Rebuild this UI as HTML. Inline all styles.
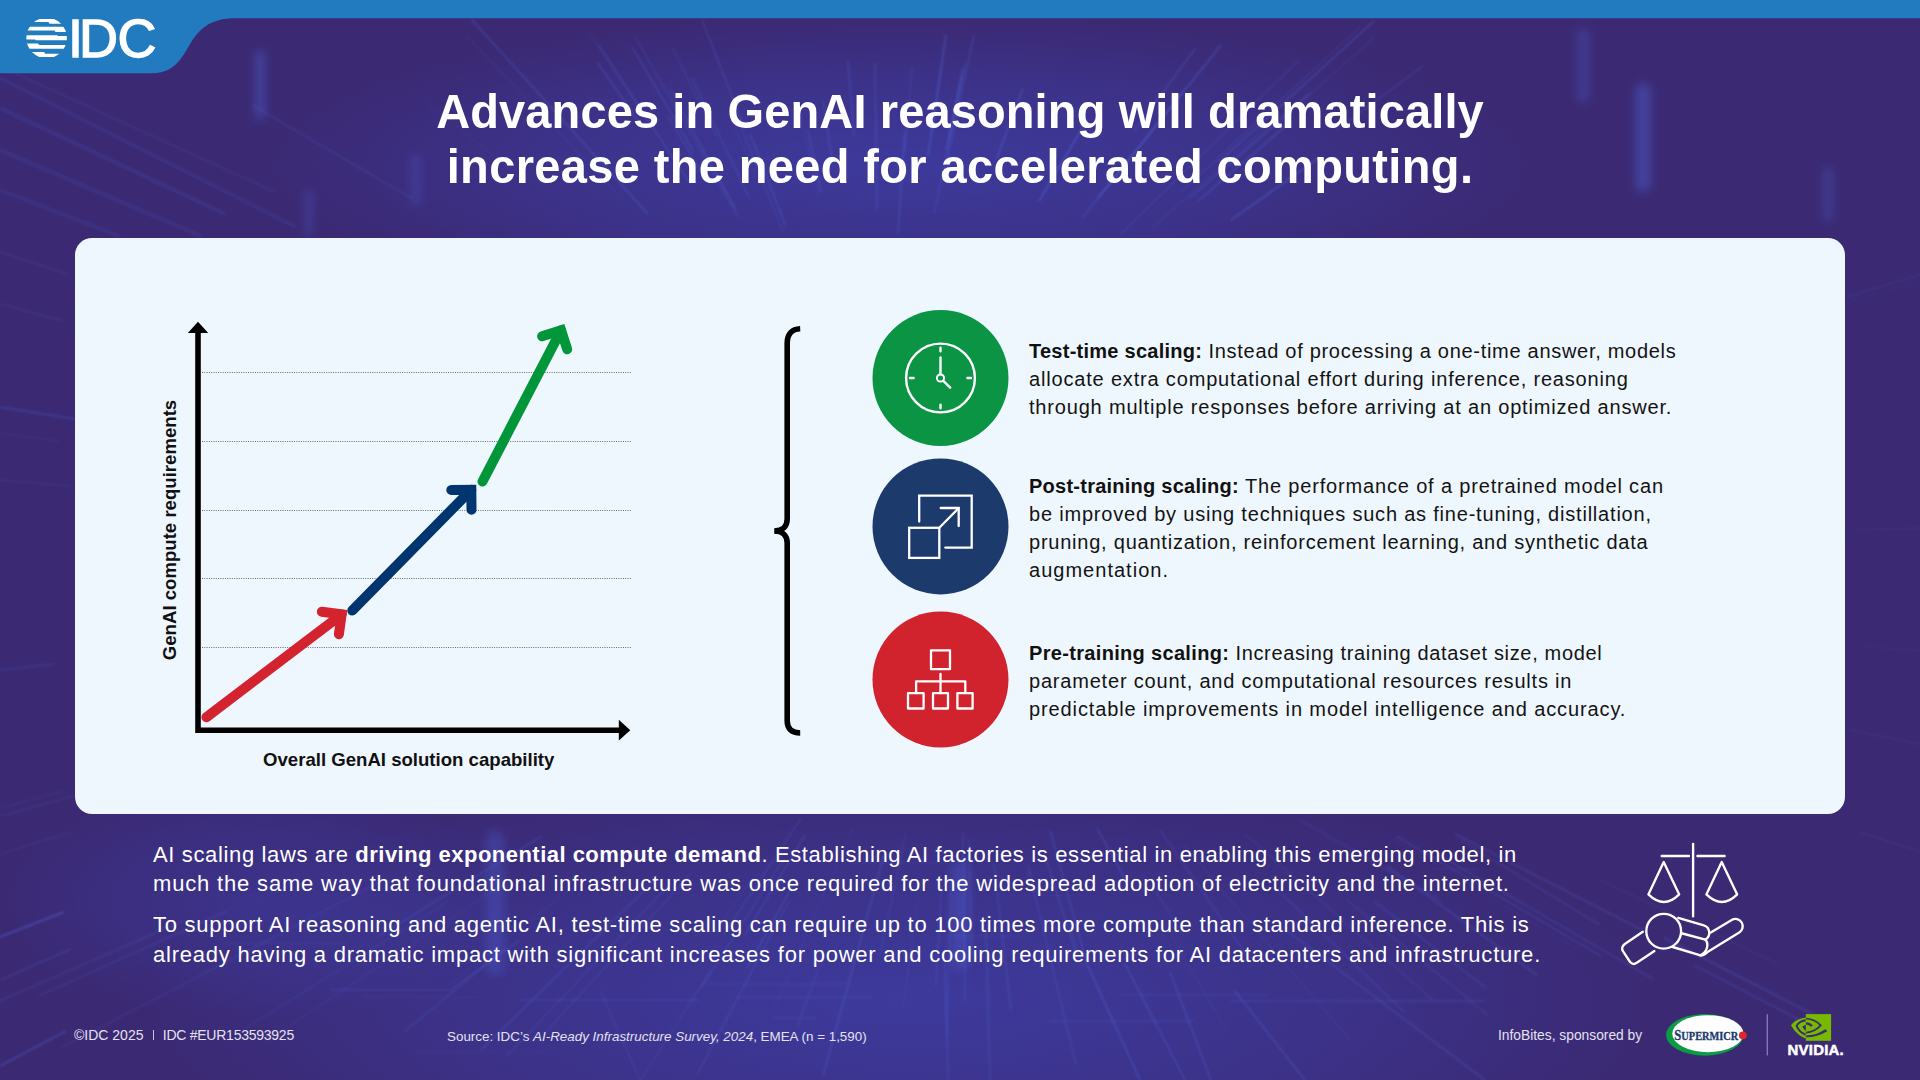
<!DOCTYPE html>
<html lang="en">
<head>
<meta charset="utf-8">
<title>Advances in GenAI reasoning</title>
<style>
html,body{margin:0;padding:0;}
body{width:1920px;height:1080px;overflow:hidden;position:relative;background:#3b2973;font-family:"Liberation Sans",Arial,sans-serif;}
.abs{position:absolute;}
#bg{position:absolute;left:0;top:0;width:1920px;height:1080px;}
#gfx{position:absolute;left:0;top:0;width:1920px;height:1080px;}
.title{position:absolute;left:0;width:1920px;top:85.2px;text-align:center;color:#fff;font-weight:bold;font-size:47px;line-height:54.7px;white-space:nowrap;}
.card{position:absolute;left:75px;top:238px;width:1770px;height:576px;border-radius:17px;background:#eff7fe;}
.desc{position:absolute;left:1029px;color:#131313;font-size:20px;line-height:28px;white-space:nowrap;}
.desc b{color:#111;}
.para{position:absolute;left:153px;color:#fff;font-size:22px;line-height:29.4px;white-space:nowrap;}
.l{display:block;}
.title .l{transform:scaleY(1.02);transform-origin:50% 79.8%;}
#t1{letter-spacing:0.123px}
#t2{letter-spacing:0.360px}
#e{letter-spacing:0.708px}
#f{letter-spacing:0.824px}
#g{letter-spacing:0.818px}
#h{letter-spacing:0.835px}
#i{letter-spacing:0.795px}
#j{letter-spacing:0.772px}
#aug{letter-spacing:1.017px}
#k{letter-spacing:0.657px}
#l{letter-spacing:0.802px}
#m{letter-spacing:0.881px}
#pa{letter-spacing:0.641px}
#pb{letter-spacing:0.829px}
#pc{letter-spacing:0.737px}
#pd{letter-spacing:0.773px}
#eb{letter-spacing:0.259px}
#hb{letter-spacing:0.248px}
#kb{letter-spacing:0.325px}
#pab{letter-spacing:0.473px}


.foot{position:absolute;color:#e4e2f0;font-size:14px;line-height:16px;white-space:nowrap;}
</style>
</head>
<body>
<svg id="bg" width="1920" height="1080" viewBox="0 0 1920 1080">
  <defs>
    <radialGradient id="g1" cx="0.5" cy="0.5" r="0.5">
      <stop offset="0" stop-color="#3f4ac4" stop-opacity="0.6"/>
      <stop offset="0.6" stop-color="#3f4ac4" stop-opacity="0.3"/>
      <stop offset="1" stop-color="#3f4ac4" stop-opacity="0"/>
    </radialGradient>
    <filter id="blur1" x="-5%" y="-5%" width="110%" height="110%"><feGaussianBlur stdDeviation="0.8"/></filter>
    <filter id="blur3" x="-5%" y="-20%" width="110%" height="140%"><feGaussianBlur stdDeviation="1.6"/></filter>
    <filter id="blur2" x="-50%" y="-50%" width="200%" height="200%"><feGaussianBlur stdDeviation="5"/></filter>
  </defs>
  <rect width="1920" height="1080" fill="#3b2973"/>
  <ellipse cx="900" cy="165" rx="640" ry="150" fill="url(#g1)" opacity="0.85"/>
  <ellipse cx="900" cy="1000" rx="760" ry="230" fill="url(#g1)" opacity="0.85"/>
  <ellipse cx="260" cy="900" rx="260" ry="120" fill="url(#g1)" opacity="0.5"/>
  <g filter="url(#blur2)">
    <rect x="255" y="50" width="10" height="70" rx="5" fill="#4f66dd" fill-opacity="0.4"/>
    <rect x="305" y="190" width="8" height="47" rx="4" fill="#4f66dd" fill-opacity="0.3"/>
    <rect x="412" y="155" width="8" height="50" rx="4" fill="#4f66dd" fill-opacity="0.3"/>
    <rect x="1577" y="28" width="12" height="75" rx="6" fill="#4f66dd" fill-opacity="0.3"/>
    <rect x="1635" y="83" width="16" height="109" rx="8" fill="#4f66dd" fill-opacity="0.4"/>
    <rect x="1822" y="167" width="12" height="55" rx="6" fill="#4f66dd" fill-opacity="0.25"/>
    <rect x="486" y="830" width="18" height="145" rx="9" fill="#4f66dd" fill-opacity="0.3"/>
    <rect x="951" y="860" width="18" height="110" rx="9" fill="#4f66dd" fill-opacity="0.3"/>
  </g>
  <g stroke="#4a64e0" filter="url(#blur3)">
    <line x1="0" y1="108" x2="225" y2="214" stroke-opacity="0.23" stroke-width="2.5"/>
    <line x1="0" y1="150" x2="201" y2="236" stroke-opacity="0.21" stroke-width="2.5"/>
    <line x1="0" y1="190" x2="119" y2="236" stroke-opacity="0.23" stroke-width="2"/>
    <line x1="0" y1="78" x2="296" y2="227" stroke-opacity="0.24" stroke-width="2"/>
  </g>
  <g stroke="#5b78f2" filter="url(#blur1)">
    <line x1="928" y1="156" x2="946" y2="35" stroke-opacity="0.37" stroke-width="1.5"/>
    <line x1="943" y1="180" x2="974" y2="35" stroke-opacity="0.32" stroke-width="1"/>
    <line x1="949" y1="139" x2="962" y2="76" stroke-opacity="0.24" stroke-width="1"/>
    <line x1="786" y1="227" x2="750" y2="133" stroke-opacity="0.31" stroke-width="1.2"/>
    <line x1="659" y1="137" x2="589" y2="33" stroke-opacity="0.16" stroke-width="1"/>
    <line x1="511" y1="170" x2="428" y2="103" stroke-opacity="0.12" stroke-width="1"/>
    <line x1="648" y1="214" x2="472" y2="20" stroke-opacity="0.35" stroke-width="1.2"/>
    <line x1="737" y1="216" x2="635" y2="36" stroke-opacity="0.28" stroke-width="1"/>
    <line x1="1219" y1="162" x2="1374" y2="21" stroke-opacity="0.35" stroke-width="1.2"/>
    <line x1="275" y1="192" x2="-88" y2="26" stroke-opacity="0.19" stroke-width="1.2"/>
    <line x1="701" y1="172" x2="668" y2="116" stroke-opacity="0.30" stroke-width="1.2"/>
    <line x1="413" y1="199" x2="252" y2="105" stroke-opacity="0.30" stroke-width="1"/>
    <line x1="832" y1="160" x2="823" y2="100" stroke-opacity="0.37" stroke-width="1"/>
    <line x1="1189" y1="199" x2="1310" y2="93" stroke-opacity="0.26" stroke-width="1.2"/>
    <line x1="755" y1="174" x2="731" y2="118" stroke-opacity="0.13" stroke-width="1"/>
    <line x1="932" y1="133" x2="941" y2="71" stroke-opacity="0.18" stroke-width="1.2"/>
    <line x1="750" y1="199" x2="692" y2="78" stroke-opacity="0.32" stroke-width="1"/>
    <line x1="905" y1="152" x2="912" y2="68" stroke-opacity="0.20" stroke-width="1.2"/>
    <line x1="1152" y1="228" x2="1273" y2="120" stroke-opacity="0.28" stroke-width="1"/>
    <line x1="716" y1="136" x2="672" y2="47" stroke-opacity="0.20" stroke-width="1.2"/>
    <line x1="693" y1="150" x2="632" y2="47" stroke-opacity="0.31" stroke-width="1.2"/>
    <line x1="1231" y1="220" x2="1319" y2="158" stroke-opacity="0.38" stroke-width="1.5"/>
    <line x1="1121" y1="234" x2="1299" y2="60" stroke-opacity="0.21" stroke-width="1.2"/>
    <line x1="821" y1="192" x2="808" y2="130" stroke-opacity="0.36" stroke-width="1"/>
    <line x1="1039" y1="201" x2="1087" y2="120" stroke-opacity="0.38" stroke-width="1.5"/>
    <line x1="1225" y1="169" x2="1374" y2="38" stroke-opacity="0.15" stroke-width="1.2"/>
    <line x1="783" y1="232" x2="734" y2="110" stroke-opacity="0.16" stroke-width="1.5"/>
    <line x1="1134" y1="131" x2="1195" y2="49" stroke-opacity="0.25" stroke-width="1.5"/>
    <line x1="735" y1="208" x2="670" y2="89" stroke-opacity="0.35" stroke-width="1"/>
    <line x1="745" y1="129" x2="702" y2="20" stroke-opacity="0.28" stroke-width="1.2"/>
    <line x1="1082" y1="218" x2="1183" y2="92" stroke-opacity="0.25" stroke-width="1.5"/>
    <line x1="1098" y1="198" x2="1221" y2="45" stroke-opacity="0.32" stroke-width="1.5"/>
    <line x1="898" y1="234" x2="905" y2="130" stroke-opacity="0.27" stroke-width="1.5"/>
    <line x1="691" y1="185" x2="598" y2="44" stroke-opacity="0.30" stroke-width="1.2"/>
    <line x1="1198" y1="201" x2="1289" y2="123" stroke-opacity="0.34" stroke-width="1.2"/>
    <line x1="877" y1="210" x2="875" y2="63" stroke-opacity="0.24" stroke-width="1.5"/>
    <line x1="946" y1="150" x2="963" y2="68" stroke-opacity="0.29" stroke-width="1.5"/>
    <line x1="1180" y1="193" x2="1360" y2="27" stroke-opacity="0.16" stroke-width="1.5"/>
    <line x1="819" y1="198" x2="797" y2="101" stroke-opacity="0.16" stroke-width="1"/>
    <line x1="621" y1="198" x2="467" y2="36" stroke-opacity="0.19" stroke-width="1"/>
    <line x1="997" y1="158" x2="1023" y2="88" stroke-opacity="0.32" stroke-width="1.5"/>
    <line x1="854" y1="135" x2="848" y2="61" stroke-opacity="0.26" stroke-width="1.5"/>
    <line x1="643" y1="128" x2="598" y2="63" stroke-opacity="0.27" stroke-width="1.5"/>
    <line x1="934" y1="214" x2="966" y2="62" stroke-opacity="0.28" stroke-width="1"/>
    <line x1="1336" y1="130" x2="1423" y2="66" stroke-opacity="0.35" stroke-width="1"/>
    <line x1="741" y1="218" x2="695" y2="135" stroke-opacity="0.13" stroke-width="1.2"/>
    <line x1="1068" y1="920" x2="1083" y2="968" stroke-opacity="0.14" stroke-width="1.5"/>
    <line x1="1598" y1="879" x2="1779" y2="964" stroke-opacity="0.18" stroke-width="1"/>
    <line x1="789" y1="901" x2="697" y2="1075" stroke-opacity="0.21" stroke-width="1.5"/>
    <line x1="1374" y1="901" x2="1486" y2="988" stroke-opacity="0.22" stroke-width="1.5"/>
    <line x1="654" y1="881" x2="481" y2="1050" stroke-opacity="0.23" stroke-width="1.5"/>
    <line x1="969" y1="839" x2="972" y2="956" stroke-opacity="0.20" stroke-width="1.2"/>
    <line x1="227" y1="911" x2="39" y2="996" stroke-opacity="0.28" stroke-width="1"/>
    <line x1="1028" y1="866" x2="1076" y2="1065" stroke-opacity="0.21" stroke-width="1.5"/>
    <line x1="823" y1="956" x2="797" y2="1028" stroke-opacity="0.19" stroke-width="1.2"/>
    <line x1="951" y1="891" x2="947" y2="1036" stroke-opacity="0.18" stroke-width="1.2"/>
    <line x1="884" y1="855" x2="823" y2="1076" stroke-opacity="0.20" stroke-width="2"/>
    <line x1="1694" y1="965" x2="1815" y2="1028" stroke-opacity="0.29" stroke-width="1.2"/>
    <line x1="963" y1="833" x2="965" y2="1002" stroke-opacity="0.19" stroke-width="1.5"/>
    <line x1="1396" y1="836" x2="1601" y2="956" stroke-opacity="0.20" stroke-width="1.5"/>
    <line x1="1155" y1="890" x2="1183" y2="935" stroke-opacity="0.20" stroke-width="1.2"/>
    <line x1="783" y1="860" x2="701" y2="988" stroke-opacity="0.30" stroke-width="1"/>
    <line x1="1455" y1="834" x2="1646" y2="932" stroke-opacity="0.24" stroke-width="1.5"/>
    <line x1="801" y1="818" x2="723" y2="936" stroke-opacity="0.24" stroke-width="1.2"/>
    <line x1="1437" y1="854" x2="1653" y2="979" stroke-opacity="0.28" stroke-width="1.2"/>
    <line x1="1664" y1="938" x2="1828" y2="1022" stroke-opacity="0.22" stroke-width="2"/>
    <line x1="506" y1="948" x2="404" y2="1032" stroke-opacity="0.24" stroke-width="1.2"/>
    <line x1="497" y1="888" x2="264" y2="1043" stroke-opacity="0.16" stroke-width="1"/>
    <line x1="794" y1="883" x2="747" y2="968" stroke-opacity="0.26" stroke-width="1.5"/>
    <line x1="1278" y1="890" x2="1404" y2="1012" stroke-opacity="0.20" stroke-width="1.5"/>
    <line x1="920" y1="882" x2="903" y2="1007" stroke-opacity="0.11" stroke-width="1.2"/>
    <line x1="1097" y1="828" x2="1126" y2="881" stroke-opacity="0.29" stroke-width="1.5"/>
    <line x1="711" y1="970" x2="641" y2="1080" stroke-opacity="0.24" stroke-width="1"/>
    <line x1="1245" y1="834" x2="1433" y2="1000" stroke-opacity="0.26" stroke-width="1"/>
    <line x1="805" y1="835" x2="745" y2="935" stroke-opacity="0.28" stroke-width="1.2"/>
    <line x1="1183" y1="844" x2="1351" y2="1041" stroke-opacity="0.11" stroke-width="1.2"/>
    <line x1="1380" y1="831" x2="1579" y2="950" stroke-opacity="0.11" stroke-width="1"/>
    <line x1="906" y1="833" x2="880" y2="955" stroke-opacity="0.22" stroke-width="1"/>
    <line x1="994" y1="864" x2="1011" y2="1010" stroke-opacity="0.20" stroke-width="1.5"/>
    <line x1="542" y1="836" x2="379" y2="936" stroke-opacity="0.21" stroke-width="1.5"/>
    <line x1="446" y1="903" x2="246" y2="1028" stroke-opacity="0.15" stroke-width="1.2"/>
    <line x1="1170" y1="934" x2="1226" y2="1029" stroke-opacity="0.13" stroke-width="1.2"/>
    <line x1="574" y1="886" x2="448" y2="986" stroke-opacity="0.13" stroke-width="1"/>
    <line x1="853" y1="828" x2="774" y2="1009" stroke-opacity="0.12" stroke-width="1"/>
    <line x1="942" y1="886" x2="936" y2="986" stroke-opacity="0.19" stroke-width="1.5"/>
    <line x1="1346" y1="899" x2="1488" y2="1015" stroke-opacity="0.18" stroke-width="1.2"/>
    <line x1="378" y1="883" x2="61" y2="1048" stroke-opacity="0.25" stroke-width="1"/>
    <line x1="185" y1="920" x2="-131" y2="1058" stroke-opacity="0.13" stroke-width="2"/>
    <line x1="1044" y1="852" x2="1076" y2="954" stroke-opacity="0.22" stroke-width="1.5"/>
    <line x1="691" y1="874" x2="544" y2="1034" stroke-opacity="0.17" stroke-width="1.5"/>
    <line x1="671" y1="883" x2="506" y2="1057" stroke-opacity="0.20" stroke-width="1.2"/>
    <line x1="753" y1="877" x2="714" y2="933" stroke-opacity="0.11" stroke-width="1.2"/>
    <line x1="64" y1="912" x2="0" y2="937" stroke-opacity="0.34" stroke-width="2"/>
    <line x1="75" y1="419" x2="0" y2="407" stroke-opacity="0.23" stroke-width="2"/>
    <line x1="68" y1="274" x2="0" y2="252" stroke-opacity="0.23" stroke-width="1"/>
    <line x1="71" y1="949" x2="0" y2="980" stroke-opacity="0.21" stroke-width="1.5"/>
    <line x1="64" y1="321" x2="0" y2="304" stroke-opacity="0.25" stroke-width="1"/>
    <line x1="71" y1="832" x2="0" y2="854" stroke-opacity="0.19" stroke-width="1"/>
    <line x1="55" y1="1087" x2="0" y2="1119" stroke-opacity="0.20" stroke-width="1.5"/>
    <line x1="74" y1="796" x2="0" y2="816" stroke-opacity="0.13" stroke-width="1.5"/>
    <line x1="54" y1="664" x2="0" y2="670" stroke-opacity="0.15" stroke-width="2"/>
    <line x1="65" y1="791" x2="0" y2="808" stroke-opacity="0.18" stroke-width="1"/>
    <line x1="59" y1="1084" x2="0" y2="1118" stroke-opacity="0.25" stroke-width="2"/>
    <line x1="66" y1="1031" x2="0" y2="1066" stroke-opacity="0.34" stroke-width="1.5"/>
    <line x1="71" y1="486" x2="0" y2="480" stroke-opacity="0.20" stroke-width="1"/>
    <line x1="59" y1="441" x2="0" y2="433" stroke-opacity="0.16" stroke-width="1"/>
    <line x1="1850" y1="301" x2="1920" y2="281" stroke-opacity="0.09" stroke-width="1"/>
    <line x1="1861" y1="646" x2="1920" y2="651" stroke-opacity="0.11" stroke-width="1"/>
    <line x1="1855" y1="530" x2="1920" y2="528" stroke-opacity="0.16" stroke-width="1"/>
    <line x1="1846" y1="297" x2="1920" y2="275" stroke-opacity="0.18" stroke-width="1"/>
    <line x1="1858" y1="832" x2="1920" y2="851" stroke-opacity="0.19" stroke-width="1"/>
    <line x1="1850" y1="730" x2="1920" y2="744" stroke-opacity="0.18" stroke-width="1"/>
    <line x1="224" y1="943" x2="346" y2="943" stroke-opacity="0.17" stroke-width="1.2"/>
    <line x1="772" y1="1018" x2="817" y2="1018" stroke-opacity="0.20" stroke-width="1.2"/>
    <line x1="702" y1="984" x2="847" y2="984" stroke-opacity="0.21" stroke-width="1.2"/>
    <line x1="363" y1="997" x2="479" y2="997" stroke-opacity="0.11" stroke-width="1.2"/>
    <line x1="416" y1="1052" x2="550" y2="1052" stroke-opacity="0.09" stroke-width="1.2"/>
    <line x1="1430" y1="869" x2="1479" y2="869" stroke-opacity="0.18" stroke-width="1.2"/>
    <line x1="944" y1="936" x2="1027" y2="936" stroke-opacity="0.14" stroke-width="1.2"/>
    <line x1="1137" y1="955" x2="1193" y2="955" stroke-opacity="0.08" stroke-width="1.2"/>
    <line x1="1121" y1="995" x2="1268" y2="995" stroke-opacity="0.22" stroke-width="1.2"/>
    <line x1="849" y1="863" x2="947" y2="863" stroke-opacity="0.19" stroke-width="1.2"/>
    <line x1="456" y1="927" x2="512" y2="927" stroke-opacity="0.16" stroke-width="1.2"/>
    <line x1="737" y1="997" x2="873" y2="997" stroke-opacity="0.22" stroke-width="1.2"/>
    <line x1="1000" y1="896" x2="1099" y2="896" stroke-opacity="0.11" stroke-width="1.2"/>
    <line x1="1050" y1="1021" x2="1196" y2="1021" stroke-opacity="0.20" stroke-width="1.2"/>
    <line x1="1087" y1="964" x2="1140" y2="1080" stroke-opacity="0.30" stroke-width="1.6"/>
    <line x1="1125" y1="964" x2="1185" y2="1080" stroke-opacity="0.28" stroke-width="1.6"/>
    <line x1="1170" y1="972" x2="1211" y2="1080" stroke-opacity="0.26" stroke-width="1.6"/>
    <line x1="1234" y1="990" x2="1305" y2="1080" stroke-opacity="0.28" stroke-width="1.6"/>
    <line x1="1282" y1="927" x2="1485" y2="1080" stroke-opacity="0.22" stroke-width="1.6"/>
    <line x1="1230" y1="1001" x2="1485" y2="1001" stroke-opacity="0.20" stroke-width="1.6"/>
    <line x1="1387" y1="866" x2="1537" y2="975" stroke-opacity="0.22" stroke-width="1.6"/>
    <line x1="945" y1="964" x2="948" y2="1080" stroke-opacity="0.22" stroke-width="1.6"/>
    <line x1="986" y1="930" x2="990" y2="1080" stroke-opacity="0.20" stroke-width="1.6"/>
    <line x1="1160" y1="830" x2="1250" y2="960" stroke-opacity="0.18" stroke-width="1.6"/>
    <line x1="1050" y1="830" x2="1087" y2="964" stroke-opacity="0.22" stroke-width="1.6"/>
    <line x1="1460" y1="840" x2="1600" y2="925" stroke-opacity="0.18" stroke-width="1.6"/>
    <line x1="1300" y1="820" x2="1440" y2="900" stroke-opacity="0.16" stroke-width="1.6"/>
    <line x1="520" y1="1000" x2="700" y2="1000" stroke-opacity="0.18" stroke-width="1.6"/>
    <line x1="600" y1="990" x2="640" y2="1080" stroke-opacity="0.16" stroke-width="1.6"/>
    <line x1="330" y1="990" x2="450" y2="990" stroke-opacity="0.18" stroke-width="1.6"/>
    <line x1="450" y1="990" x2="520" y2="940" stroke-opacity="0.16" stroke-width="1.6"/>
  </g>
</svg>

<svg id="gfx" width="1920" height="1080" viewBox="0 0 1920 1080">
  <!-- top bar and logo tab -->
  <path d="M0,0 H1920 V18.3 H235 C213,18.3 201,26.5 191,42.5 C181,60 173,73.2 153,73.2 H0 Z" fill="#237bbf"/>
  <!-- IDC globe -->
  <defs>
    <clipPath id="glb"><circle cx="46.6" cy="38" r="20.3"/></clipPath>
  </defs>
  <g clip-path="url(#glb)" fill="#fff">
    <polygon points="20,19 80,19 80,23.75 49.6,23.75 48.4,21.9 20,21.9"/>
    <polygon points="20,26.7 80,26.7 80,31.9 55.6,31.9 54.4,30.6 20,30.6"/>
    <polygon points="20,35.2 57,35.2 58,36 80,36 80,40.2 36,40.2 35,39.6 20,39.6"/>
    <polygon points="20,43.5 38,43.5 39.2,45 80,45 80,48.75 20,48.75"/>
    <polygon points="20,52.1 44,52.1 45.2,53.75 80,53.75 80,57 20,57"/>
  </g>
  <text x="67.9 79 117.6" y="57.2" fill="#fff" stroke="#fff" stroke-width="1.4" font-family="Liberation Sans" font-size="54">IDC</text>

  <!-- card -->
  <rect x="75" y="238" width="1770" height="576" rx="17" fill="#eff7fe"/>

  <!-- gridlines -->
  <g stroke="#6a6a6a" stroke-width="1" stroke-dasharray="1,1.3">
    <line x1="202" y1="372.5" x2="631" y2="372.5"/>
    <line x1="202" y1="441.5" x2="631" y2="441.5"/>
    <line x1="202" y1="510.5" x2="631" y2="510.5"/>
    <line x1="202" y1="578.5" x2="631" y2="578.5"/>
    <line x1="202" y1="647.5" x2="631" y2="647.5"/>
  </g>
  <!-- axes -->
  <path d="M198,332 V730.2 H620" fill="none" stroke="#000" stroke-width="5.6"/>
  <polygon points="187.8,333 208.2,333 198,321.8" fill="#000"/>
  <polygon points="618.8,719.8 618.8,740.5 630.3,730.2" fill="#000"/>

  <!-- arrows -->
  <g fill="none" stroke-width="10" stroke-linecap="round" stroke-linejoin="miter">
    <path d="M206.4,717.3 L341.6,614.4" stroke="#d2232f"/>
    <path d="M321.8,611.7 L341.6,614.4 L338.9,634.2" stroke="#d2232f"/>
    <path d="M352.3,610.6 L471.3,489.7" stroke="#00356f"/>
    <path d="M451.3,489.9 L471.3,489.7 L471.5,509.7" stroke="#00356f"/>
    <path d="M482.5,481.5 L561.1,330.2" stroke="#009639"/>
    <path d="M542.1,336.2 L561.1,330.2 L567.2,349.2" stroke="#009639"/>
  </g>

  <!-- brace -->
  <g fill="none" stroke="#000" stroke-width="5.6">
    <path d="M800.2,328.7 C792,329 787.2,334 787.2,343 V519 C787.2,527 782,531 774.5,531"/>
    <path d="M774.5,531 C782,531 787.2,535 787.2,543 V721 C787.2,729 792,733 800.2,733"/>
  </g>

  <!-- circles -->
  <circle cx="940.5" cy="378" r="68" fill="#0a9444"/>
  <circle cx="940.5" cy="526.4" r="68" fill="#1c3a6c"/>
  <circle cx="940.5" cy="679.5" r="68" fill="#d1232e"/>

  <!-- clock icon -->
  <g fill="none" stroke="#fff" stroke-width="2.4" stroke-linecap="round">
    <circle cx="940.5" cy="378" r="34.4"/>
    <path d="M940.5,347.8 V351.2 M940.5,404.6 V408.2 M910,378 H913.6 M967.4,378 H971"/>
    <path d="M940.5,357.5 V374.3"/>
    <circle cx="940.5" cy="378" r="3.6" stroke-width="2"/>
    <path d="M943.3,380.8 L950.2,387.6"/>
  </g>
  <!-- expand icon -->
  <g fill="none" stroke="#fff" stroke-width="2.3" stroke-linecap="round" stroke-linejoin="miter">
    <path d="M919.2,521.5 V495.6 H971.7 V547.6 H945.3"/>
    <rect x="909.2" y="527.8" width="30.1" height="30.1"/>
    <path d="M939.3,527.8 L958.6,508.2"/>
    <path d="M940.7,508 H958.7 V526.1"/>
  </g>
  <!-- hierarchy icon -->
  <g fill="none" stroke="#fff" stroke-width="2.3" stroke-linecap="round" stroke-linejoin="round">
    <rect x="931" y="650.4" width="19" height="18.8"/>
    <path d="M940.5,673.8 V693.2"/>
    <path d="M916.1,693.2 V681.4 H965.3 V693.2"/>
    <rect x="908" y="693.2" width="15.6" height="15.3"/>
    <rect x="933" y="693.2" width="15" height="15.3"/>
    <rect x="957.4" y="693.2" width="15.2" height="15.3"/>
  </g>

  <!-- Supermicro logo -->
  <ellipse cx="1704.8" cy="1034.9" rx="38.8" ry="20.8" fill="#0c9a45"/>
  <ellipse cx="1707.9" cy="1033.7" rx="35.6" ry="18.5" fill="#ffffff"/>
  <text id="smc" x="1674.3" y="1039.9" fill="#1b3a6e" stroke="#1b3a6e" stroke-width="0.35" font-family="Liberation Serif" font-weight="bold" font-size="15.4" textLength="64" lengthAdjust="spacingAndGlyphs">S<tspan font-size="12.6">UPERMICR</tspan></text>
  <circle cx="1742.8" cy="1035.3" r="3.9" fill="#e0262b"/>
  <!-- separator -->
  <rect x="1766.7" y="1014.2" width="1.2" height="41.2" fill="#8a83bb"/>
  <!-- NVIDIA logo -->
  <rect x="1805.8" y="1014.1" width="25.3" height="26.7" fill="#76b900"/>
  <path d="M1805.8,1017.6 C1798,1018.6 1793.5,1022 1791,1025.4 C1794,1030 1799,1036.5 1805.8,1038.4 Z" fill="#76b900"/>
  <g fill="none" stroke="#3b2973">
    <path d="M1805.6,1020.3 C1800.5,1021.2 1797.8,1023.4 1796.6,1025.9 C1798,1029.5 1801,1033 1805.6,1034.6" stroke-width="1.9"/>
    <path d="M1806.1,1018.5 C1812.5,1019 1817.5,1022 1820.7,1025.3 C1817,1029.3 1812,1032 1806.1,1032.6" stroke-width="1.7"/>
    <path d="M1806.1,1023.3 C1809,1023.5 1810.8,1024.6 1811.8,1026.2" stroke-width="2.3"/>
  </g>
  <path d="M1806.1,1035.6 C1813,1035.4 1819,1033.5 1825.3,1029.3 L1827.3,1031.2 C1820,1035.5 1813,1037.4 1806.1,1037.3 Z" fill="#3b2973"/>
  <path d="M1805.8,1025 C1804.2,1025.3 1802.9,1026 1802.4,1026.8 C1803.2,1028.6 1804.4,1029.9 1805.8,1030.6 Z" fill="#3b2973"/>
  <text x="1787.6" y="1055.4" fill="#fff" stroke="#fff" stroke-width="0.5" font-family="Liberation Sans" font-weight="bold" font-size="14.4" letter-spacing="0.2" textLength="56.3" lengthAdjust="spacingAndGlyphs">NVIDIA.</text>

  <!-- scales / hand icon -->
  <g fill="none" stroke="#fff" stroke-width="2.35" stroke-linecap="round" stroke-linejoin="round">
    <path d="M1693.1,843.8 V916.3"/>
    <path d="M1661.7,856 H1688.9 M1697.4,856 H1724.6"/>
    <path d="M1663.7,862 L1648.4,894.4 Q1664,909.5 1679.2,894.4 Z"/>
    <path d="M1721.7,862 L1706.4,894.4 Q1722,909.5 1737.2,894.4 Z"/>
    <circle cx="1663.7" cy="931.2" r="17.4"/>
    <path d="M1642.8,931.7 L1624.8,944 Q1620.5,947.5 1623.1,951.4 L1630.1,962 Q1633.5,965.5 1636.8,962.7 L1654.4,951.1"/>
    <path d="M1678.3,917.9 L1703.8,925.4 C1710.5,927.5 1711,936.5 1705.3,939.6"/>
    <path d="M1682.5,933.5 L1705.3,939.6 C1708.6,943 1708.4,951.5 1700.5,955.3 L1672.7,947"/>
    <path d="M1710.8,932.5 L1731.7,920 A7.25,7.25 0 0 1 1739.2,932.5 L1707.9,951.7 C1706,953.5 1704,955.5 1700.5,955.5"/>
  </g>
</svg>

<div class="title"><span class="l" id="t1">Advances in GenAI reasoning will dramatically</span><span class="l" id="t2">increase the need for accelerated computing.</span></div>

<div class="desc" style="top:336.9px"><span class="l" id="e"><b id="eb">Test-time scaling:</b> Instead of processing a one-time answer, models</span><span class="l" id="f">allocate extra computational effort during inference, reasoning</span><span class="l" id="g">through multiple responses before arriving at an optimized answer.</span></div>
<div class="desc" style="top:472.4px"><span class="l" id="h"><b id="hb">Post-training scaling:</b> The performance of a pretrained model can</span><span class="l" id="i">be improved by using techniques such as fine-tuning, distillation,</span><span class="l" id="j">pruning, quantization, reinforcement learning, and synthetic data</span><span class="l" id="aug">augmentation.</span></div>
<div class="desc" style="top:638.5px"><span class="l" id="k"><b id="kb">Pre-training scaling:</b> Increasing training dataset size, model</span><span class="l" id="l">parameter count, and computational resources results in</span><span class="l" id="m">predictable improvements in model intelligence and accuracy.</span></div>

<div class="abs" style="left:263px;top:749px;font-weight:bold;font-size:18.6px;line-height:22px;color:#111;white-space:nowrap;">Overall GenAI solution capability</div>
<div class="abs" style="left:170px;top:530px;width:0;height:0;">
  <div style="position:absolute;left:0;top:0;transform:translate(-50%,-50%) rotate(-90deg);font-weight:bold;font-size:18.6px;line-height:22px;color:#111;white-space:nowrap;">GenAI compute requirements</div>
</div>

<div class="para" style="top:839.9px"><span class="l" id="pa">AI scaling laws are <b id="pab">driving exponential compute demand</b>. Establishing AI factories is essential in enabling this emerging model, in</span><span class="l" id="pb">much the same way that foundational infrastructure was once required for the widespread adoption of electricity and the internet.</span></div>
<div class="para" style="top:910.2px"><span class="l" id="pc">To support AI reasoning and agentic AI, test-time scaling can require up to 100 times more compute than standard inference. This is</span><span class="l" id="pd">already having a dramatic impact with significant increases for power and cooling requirements for AI datacenters and infrastructure.</span></div>

<div class="foot" style="left:74px;top:1027px;">©IDC 2025<span style="display:inline-block;width:1.3px;height:10.2px;background:#c9c5e0;margin:0 8.6px 0 9.4px;vertical-align:0px"></span><span style="letter-spacing:-0.25px">IDC #EUR153593925</span></div>
<div class="foot" style="left:447px;top:1029px;font-size:13.4px;">Source: IDC’s <i>AI-Ready Infrastructure Survey, 2024</i>, EMEA (n = 1,590)</div>
<div class="foot" style="left:1498px;top:1028px;font-size:13.8px;">InfoBites, sponsored by</div>

</body>
</html>
